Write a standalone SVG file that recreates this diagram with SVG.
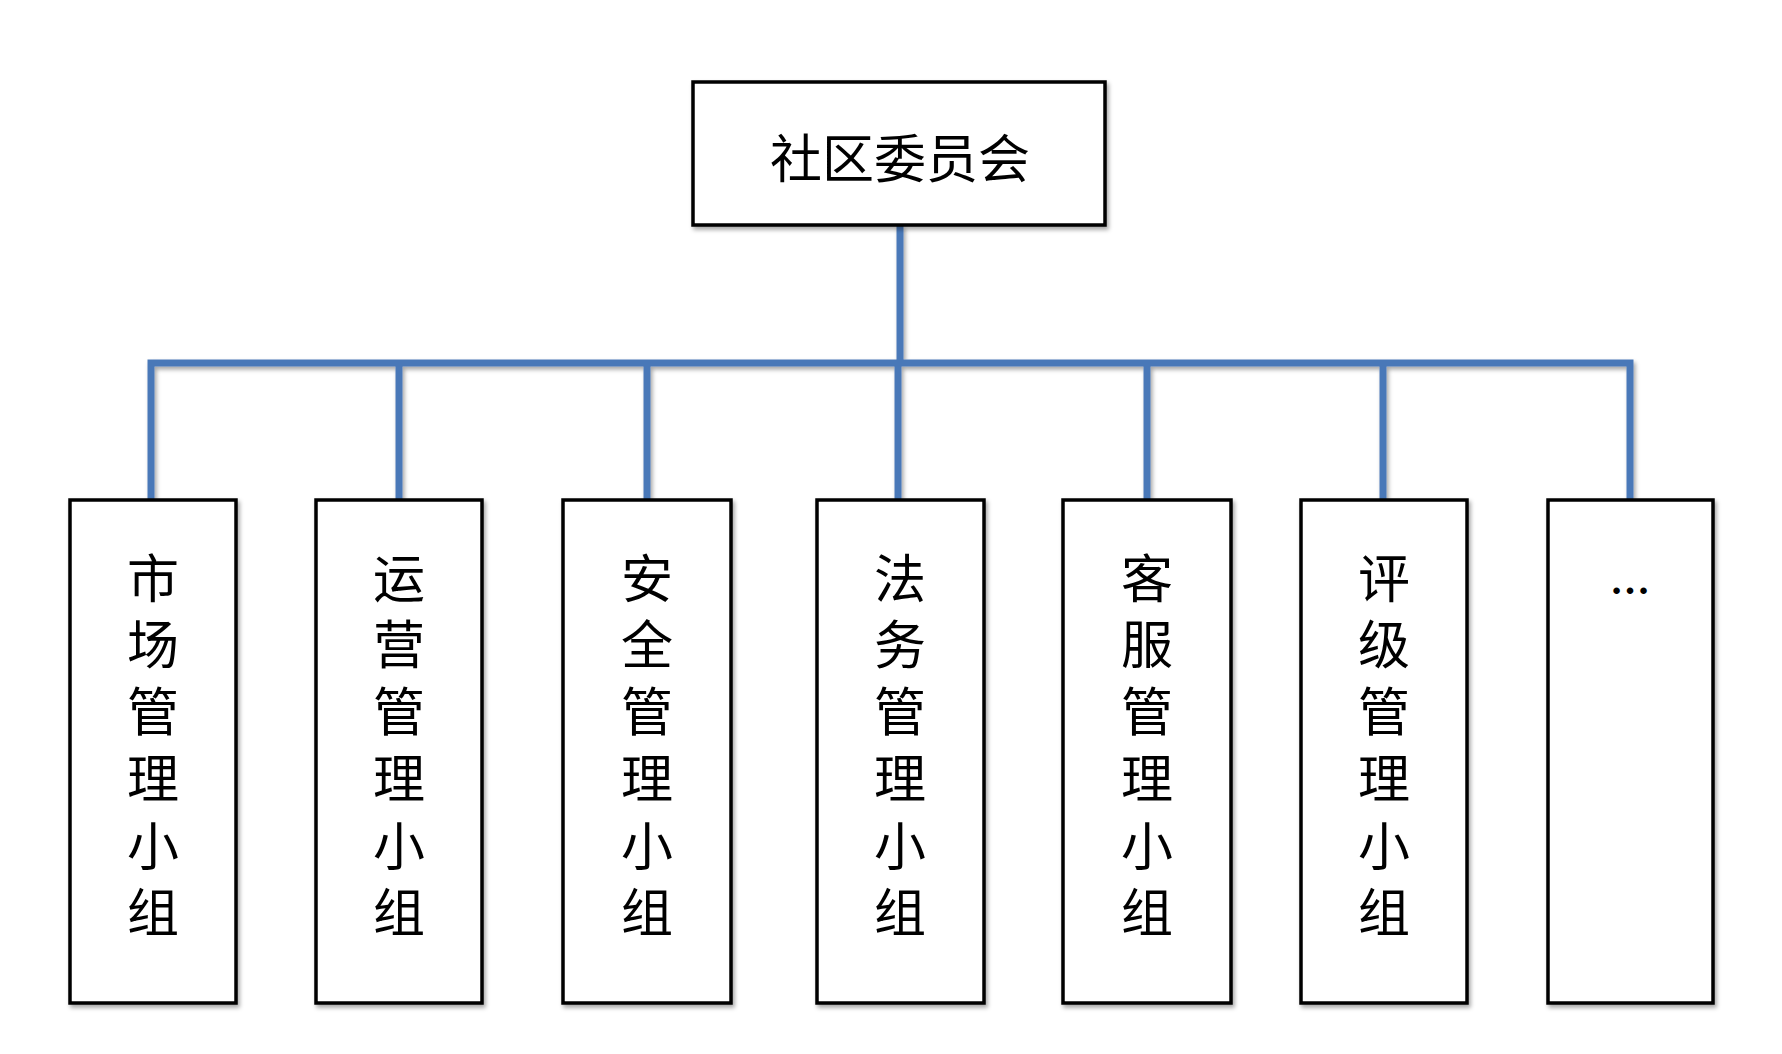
<svg xmlns="http://www.w3.org/2000/svg" width="1782" height="1054" viewBox="0 0 1782 1054">
<defs>
<style>
.box{fill:#fff;stroke:#000;stroke-width:3.5}
.t{font-family:"Liberation Serif","Noto Sans CJK SC",serif;font-size:52px;text-anchor:middle;fill:#000}
.ln{stroke:#4a78b8;stroke-width:7;fill:none}
</style>
<filter id="sh" x="-10%" y="-10%" width="130%" height="130%"><feDropShadow dx="2" dy="3" stdDeviation="2" flood-opacity="0.35"/></filter>
</defs>
<rect width="1782" height="1054" fill="#fff"/>
<g id="connectors" filter="url(#sh)">
<path class="ln" d="M900 225V363M151 500V363H1630V500M399 363V500M647 363V500M898 363V500M1147 363V500M1383 363V500"/>
</g>
<g id="root"><rect class="box" x="693" y="82" width="412" height="143" filter="url(#sh)"/><text class="t" x="900" y="178">社区委员会</text></g>
<g id="n1"><rect class="box" x="70" y="500" width="166" height="503" filter="url(#sh)"/><text class="t"><tspan x="153" y="598">市</tspan><tspan x="153" y="664">场</tspan><tspan x="153" y="731">管</tspan><tspan x="153" y="798">理</tspan><tspan x="153" y="866">小</tspan><tspan x="153" y="932">组</tspan></text></g>
<g id="n2"><rect class="box" x="316" y="500" width="166" height="503" filter="url(#sh)"/><text class="t"><tspan x="399" y="598">运</tspan><tspan x="399" y="664">营</tspan><tspan x="399" y="731">管</tspan><tspan x="399" y="798">理</tspan><tspan x="399" y="866">小</tspan><tspan x="399" y="932">组</tspan></text></g>
<g id="n3"><rect class="box" x="563" y="500" width="168" height="503" filter="url(#sh)"/><text class="t"><tspan x="647" y="598">安</tspan><tspan x="647" y="664">全</tspan><tspan x="647" y="731">管</tspan><tspan x="647" y="798">理</tspan><tspan x="647" y="866">小</tspan><tspan x="647" y="932">组</tspan></text></g>
<g id="n4"><rect class="box" x="817" y="500" width="167" height="503" filter="url(#sh)"/><text class="t"><tspan x="900" y="598">法</tspan><tspan x="900" y="664">务</tspan><tspan x="900" y="731">管</tspan><tspan x="900" y="798">理</tspan><tspan x="900" y="866">小</tspan><tspan x="900" y="932">组</tspan></text></g>
<g id="n5"><rect class="box" x="1063" y="500" width="168" height="503" filter="url(#sh)"/><text class="t"><tspan x="1147" y="598">客</tspan><tspan x="1147" y="664">服</tspan><tspan x="1147" y="731">管</tspan><tspan x="1147" y="798">理</tspan><tspan x="1147" y="866">小</tspan><tspan x="1147" y="932">组</tspan></text></g>
<g id="n6"><rect class="box" x="1301" y="500" width="166" height="503" filter="url(#sh)"/><text class="t"><tspan x="1384" y="598">评</tspan><tspan x="1384" y="664">级</tspan><tspan x="1384" y="731">管</tspan><tspan x="1384" y="798">理</tspan><tspan x="1384" y="866">小</tspan><tspan x="1384" y="932">组</tspan></text></g>
<g id="n7"><rect class="box" x="1548" y="500" width="165" height="503" filter="url(#sh)"/><text class="t" x="1630" y="594" style="font-size:40px;font-weight:bold">…</text></g>
</svg>
